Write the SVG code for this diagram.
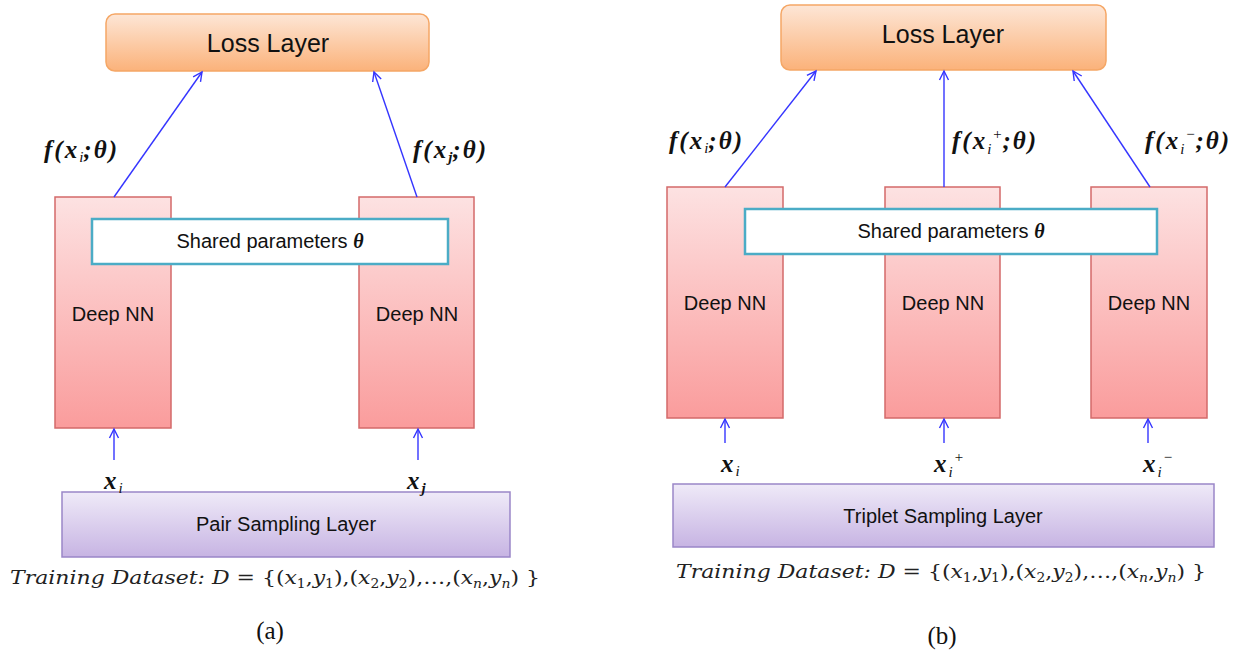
<svg xmlns="http://www.w3.org/2000/svg" width="1236" height="654" viewBox="0 0 1236 654">
<defs>
<linearGradient id="gLoss" x1="0" y1="0" x2="0" y2="1"><stop offset="0" stop-color="#fde6d6"/><stop offset="1" stop-color="#fbb27a"/></linearGradient>
<linearGradient id="gNN" x1="0" y1="0" x2="0" y2="1"><stop offset="0" stop-color="#fde2e2"/><stop offset="1" stop-color="#fa9c9c"/></linearGradient>
<linearGradient id="gSamp" x1="0" y1="0" x2="0" y2="1"><stop offset="0" stop-color="#efeaf8"/><stop offset="1" stop-color="#c7b4e3"/></linearGradient>
<marker id="arr" markerWidth="12" markerHeight="12" refX="10" refY="6" orient="auto" markerUnits="userSpaceOnUse"><path d="M1,1.5 L10,6 L1,10.5" fill="none" stroke="#3535ff" stroke-width="1.4"/></marker>
</defs>
<style>
.loss{fill:url(#gLoss);stroke:#f5a766;stroke-width:1.5}
.nn{fill:url(#gNN);stroke:#d36a6a;stroke-width:1.5}
.shared{fill:#ffffff;stroke:#4bacc6;stroke-width:2.5}
.samp{fill:url(#gSamp);stroke:#9a86c8;stroke-width:1.5}
.conn{stroke:#3535ff;stroke-width:1.4;fill:none;marker-end:url(#arr)}
.t{font-family:"Liberation Sans","Open Sans",sans-serif;fill:#111;text-anchor:middle}
.big{font-size:25px}
.mid{font-size:20px}
.m{font-family:"Liberation Serif","DejaVu Serif",serif;font-weight:bold;font-style:italic;fill:#111;font-size:25px;letter-spacing:2px}
.sub{font-weight:normal;font-size:15px;letter-spacing:0}
.ds{font-family:"DejaVu Serif","Liberation Serif",serif;font-style:italic;fill:#222;font-size:19px}
.up{font-style:normal}
.dsub{font-size:12px;font-style:normal}
.dsubi{font-size:12px;font-style:italic}
.cap{font-family:"Liberation Serif","Times New Roman",serif;font-size:25px;fill:#111;text-anchor:middle}
</style>
<rect width="1236" height="654" fill="#ffffff"/>

<!-- Panel (a) -->
<g id="a-loss"><rect class="loss" x="106" y="14" width="323" height="57" rx="9"/><text class="t big" x="268" y="52">Loss Layer</text></g>
<g id="a-nn1"><rect class="nn" x="55" y="197" width="116" height="231"/><text class="t mid" x="113" y="321">Deep NN</text></g>
<g id="a-nn2"><rect class="nn" x="359" y="197" width="115" height="231"/><text class="t mid" x="417" y="321">Deep NN</text></g>
<g id="a-shared"><rect class="shared" x="92" y="219" width="356" height="45"/><text class="t mid" x="270" y="248">Shared parameters <tspan font-family="Liberation Serif,serif" font-weight="bold" font-style="italic">θ</tspan></text></g>
<g id="a-samp"><rect class="samp" x="62" y="492" width="448" height="65"/><text class="t mid" x="286" y="531">Pair Sampling Layer</text></g>

<!-- Panel (b) -->
<g id="b-loss"><rect class="loss" x="781" y="5" width="325" height="65" rx="9"/><text class="t big" x="943" y="43">Loss Layer</text></g>
<g id="b-nn1"><rect class="nn" x="667" y="187" width="116" height="231"/><text class="t mid" x="725" y="310">Deep NN</text></g>
<g id="b-nn2"><rect class="nn" x="885" y="187" width="115" height="231"/><text class="t mid" x="943" y="310">Deep NN</text></g>
<g id="b-nn3"><rect class="nn" x="1091" y="187" width="116" height="231"/><text class="t mid" x="1149" y="310">Deep NN</text></g>
<g id="b-shared"><rect class="shared" x="745" y="209" width="412" height="45"/><text class="t mid" x="951" y="238">Shared parameters <tspan font-family="Liberation Serif,serif" font-weight="bold" font-style="italic">θ</tspan></text></g>
<g id="b-samp"><rect class="samp" x="673" y="484" width="541" height="63"/><text class="t mid" x="943" y="523">Triplet Sampling Layer</text></g>

<g id="connectors">
<line class="conn" x1="114" y1="197" x2="202" y2="72"/>
<line class="conn" x1="417" y1="197" x2="374" y2="72"/>
<line class="conn" x1="114" y1="460" x2="114" y2="429"/>
<line class="conn" x1="418" y1="460" x2="418" y2="429"/>
<line class="conn" x1="725" y1="187" x2="816" y2="71"/>
<line class="conn" x1="944" y1="187" x2="944" y2="71"/>
<line class="conn" x1="1150" y1="187" x2="1073" y2="71"/>
<line class="conn" x1="725" y1="443" x2="725" y2="419"/>
<line class="conn" x1="944" y1="443" x2="944" y2="419"/>
<line class="conn" x1="1148" y1="443" x2="1148" y2="419"/>
</g>

<g id="labels">
<text class="m" x="44" y="158">f(x<tspan class="sub" dy="4">i</tspan><tspan dy="-4">;θ)</tspan></text>
<text class="m" x="413" y="158">f(x<tspan class="sub" dy="4" style="font-weight:bold">j</tspan><tspan dy="-4">;θ)</tspan></text>
<text class="m" x="104" y="489">x<tspan class="sub" dy="4">i</tspan></text>
<text class="m" x="407" y="489">x<tspan class="sub" dy="4" style="font-weight:bold">j</tspan></text>

<text class="m" x="669" y="149">f(x<tspan class="sub" dy="4">i</tspan><tspan dy="-4">;θ)</tspan></text>
<text class="m" x="952" y="149">f(x<tspan class="sub" dy="5">i</tspan><tspan class="sub" dx="1" dy="-15">+</tspan><tspan dy="10">;θ)</tspan></text>
<text class="m" x="1145" y="149">f(x<tspan class="sub" dy="5">i</tspan><tspan class="sub" dx="1" dy="-15">−</tspan><tspan dy="10">;θ)</tspan></text>
<text class="m" x="721" y="472">x<tspan class="sub" dy="4">i</tspan></text>
<text class="m" x="934" y="472">x<tspan class="sub" dy="5">i</tspan><tspan class="sub" dx="1" dy="-15">+</tspan></text>
<text class="m" x="1143" y="472">x<tspan class="sub" dy="5">i</tspan><tspan class="sub" dx="1" dy="-15">−</tspan></text>

<text class="ds" x="10" y="584" textLength="530" lengthAdjust="spacingAndGlyphs">Training Dataset: D <tspan class="up">= {(</tspan>x<tspan class="dsub" dy="4">1</tspan><tspan dy="-4" class="up">,</tspan>y<tspan class="dsub" dy="4">1</tspan><tspan dy="-4" class="up">),(</tspan>x<tspan class="dsub" dy="4">2</tspan><tspan dy="-4" class="up">,</tspan>y<tspan class="dsub" dy="4">2</tspan><tspan dy="-4" class="up">),…,(</tspan>x<tspan class="dsubi" dy="4">n</tspan><tspan dy="-4" class="up">,</tspan>y<tspan class="dsubi" dy="4">n</tspan><tspan dy="-4" class="up">) }</tspan></text>
<text class="ds" x="676" y="578" textLength="530" lengthAdjust="spacingAndGlyphs">Training Dataset: D <tspan class="up">= {(</tspan>x<tspan class="dsub" dy="4">1</tspan><tspan dy="-4" class="up">,</tspan>y<tspan class="dsub" dy="4">1</tspan><tspan dy="-4" class="up">),(</tspan>x<tspan class="dsub" dy="4">2</tspan><tspan dy="-4" class="up">,</tspan>y<tspan class="dsub" dy="4">2</tspan><tspan dy="-4" class="up">),…,(</tspan>x<tspan class="dsubi" dy="4">n</tspan><tspan dy="-4" class="up">,</tspan>y<tspan class="dsubi" dy="4">n</tspan><tspan dy="-4" class="up">) }</tspan></text>

<text class="cap" x="270" y="639">(a)</text>
<text class="cap" x="942" y="644">(b)</text>
</g>
</svg>
